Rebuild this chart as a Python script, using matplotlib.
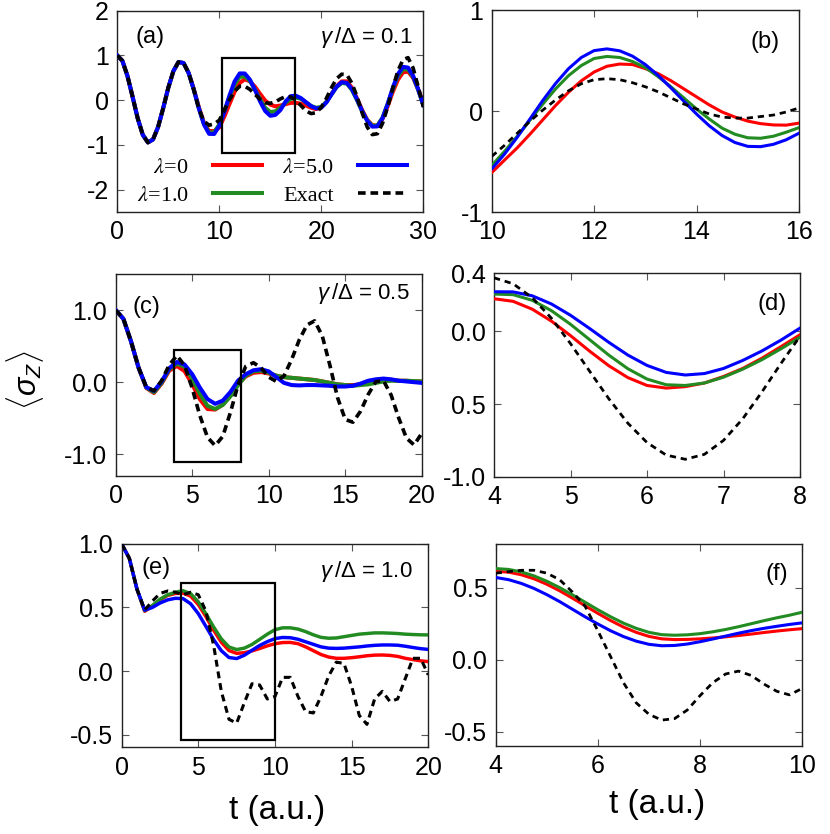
import matplotlib
matplotlib.use("Agg")
import matplotlib.pyplot as plt
import numpy as np
from matplotlib.font_manager import FontProperties
from matplotlib.patches import Rectangle

# ---------------- data ----------------
labels = [r"$\lambda$=0", r"$\lambda$=1.0", r"$\lambda$=5.0", "Exact"]
gammas = ["0.1", "0.5", "1.0"]

# panel (a): t = 0..30 step 0.5
t_a = np.linspace(0, 30, 61)
red_a = [1.0, 0.88, 0.54, 0.075, -0.405, -0.775, -0.945, -0.88, -0.60, -0.18, 0.277, 0.649, 0.852, 0.83, 0.605,
         0.25, -0.16, -0.51, -0.69, -0.69, -0.61, -0.364, -0.086, 0.186, 0.386, 0.465, 0.42, 0.30, 0.14, -0.01,
         -0.10, -0.138, -0.12, -0.09, -0.06, -0.06, -0.08, -0.12, -0.17, -0.20, -0.16, -0.04, 0.14, 0.31, 0.42,
         0.42, 0.28, 0.04, -0.22, -0.44, -0.56, -0.57, -0.42, -0.14, 0.18, 0.45, 0.62, 0.64, 0.5, 0.24, -0.06]
green_a = [1.0, 0.88, 0.54, 0.075, -0.405, -0.775, -0.945, -0.88, -0.60, -0.18, 0.277, 0.649, 0.852, 0.83, 0.605,
           0.234, -0.185, -0.535, -0.72, -0.72, -0.54, -0.25, 0.07, 0.35, 0.52, 0.53, 0.43, 0.24, 0.02, -0.17,
           -0.265, -0.25, -0.165, -0.06, 0.03, 0.06, 0.03, -0.05, -0.13, -0.17, -0.15, -0.04, 0.13, 0.29, 0.385,
           0.37, 0.23, 0.0, -0.25, -0.45, -0.57, -0.565, -0.39, -0.09, 0.24, 0.53, 0.69, 0.69, 0.52, 0.23, -0.11]
blue_a = [1.0, 0.88, 0.54, 0.075, -0.405, -0.775, -0.945, -0.88, -0.60, -0.18, 0.277, 0.649, 0.852, 0.83, 0.605,
          0.234, -0.185, -0.546, -0.753, -0.756, -0.574, -0.259, 0.106, 0.419, 0.598, 0.596, 0.460, 0.229, -0.030,
          -0.243, -0.350, -0.33, -0.22, -0.03, 0.09, 0.10, 0.046, -0.045, -0.134, -0.185, -0.169, -0.051, 0.129,
          0.301, 0.401, 0.386, 0.247, 0.019, -0.240, -0.463, -0.592, -0.587, -0.407, -0.091, 0.270, 0.576, 0.744,
          0.728, 0.546, 0.242, -0.11]
exact_a = [1.0, 0.88, 0.54, 0.075, -0.405, -0.775, -0.945, -0.88, -0.60, -0.18, 0.277, 0.649, 0.852, 0.83, 0.605,
           0.234, -0.2, -0.47, -0.56, -0.53, -0.45, -0.22, 0.01, 0.20, 0.31, 0.31, 0.24, 0.13, 0.02, -0.06,
           -0.07, -0.04, 0.03, 0.08, 0.07, 0.0, -0.12, -0.24, -0.30, -0.28, -0.16, 0.04, 0.28, 0.48, 0.58,
           0.57, 0.38, 0.08, -0.28, -0.60, -0.77, -0.75, -0.52, -0.16, 0.26, 0.65, 0.90, 0.95, 0.72, 0.30, -0.15]

# panel (b): t = 10..16 step 0.25
t_b = np.linspace(10, 16, 25)
red_b = [-0.61, -0.486, -0.364, -0.228, -0.086, 0.056, 0.186, 0.299, 0.386, 0.443, 0.465, 0.46, 0.42, 0.37,
         0.30, 0.22, 0.14, 0.06, -0.01, -0.06, -0.10, -0.125, -0.138, -0.14, -0.12]
green_b = [-0.54, -0.40, -0.25, -0.09, 0.07, 0.22, 0.35, 0.45, 0.52, 0.54, 0.53, 0.49, 0.43, 0.34, 0.24, 0.13,
           0.02, -0.08, -0.17, -0.23, -0.265, -0.27, -0.25, -0.21, -0.165]
blue_b = [-0.574, -0.427, -0.259, -0.077, 0.106, 0.274, 0.419, 0.530, 0.598, 0.615, 0.596, 0.543, 0.460, 0.353,
          0.229, 0.098, -0.030, -0.147, -0.243, -0.312, -0.350, -0.353, -0.33, -0.285, -0.22]
exact_b = [-0.45, -0.34, -0.22, -0.10, 0.01, 0.11, 0.20, 0.27, 0.31, 0.32, 0.31, 0.28, 0.24, 0.19, 0.13, 0.07,
           0.02, -0.03, -0.06, -0.07, -0.07, -0.055, -0.04, -0.01, 0.03]

# panel (c): t = 0..20 step 0.5
t_c = np.linspace(0, 20, 41)
red_c = [1.0, 0.879, 0.566, 0.197, -0.08, -0.15, -0.02, 0.16, 0.225, 0.153, -0.029, -0.236, -0.372, -0.38, -0.31,
         -0.185, -0.023, 0.08, 0.13, 0.14, 0.12, 0.09, 0.07, 0.06, 0.05, 0.04, 0.03, 0.01, -0.01, -0.03, -0.04,
         -0.04, -0.03, -0.01, 0.01, 0.03, 0.03, 0.02, 0.02, 0.01, 0.01]
green_c = [1.0, 0.879, 0.566, 0.197, -0.075, -0.14, -0.01, 0.18, 0.257, 0.214, 0.049, -0.163, -0.328, -0.372,
           -0.315, -0.195, -0.04, 0.09, 0.15, 0.16, 0.13, 0.09, 0.07, 0.06, 0.05, 0.04, 0.03, 0.01, -0.01, -0.03,
           -0.04, -0.05, -0.04, -0.03, -0.01, 0.01, 0.02, 0.02, 0.02, 0.015, 0.01]
blue_c = [1.0, 0.879, 0.566, 0.197, -0.069, -0.122, 0.008, 0.194, 0.28, 0.245, 0.111, -0.075, -0.234, -0.30,
          -0.255, -0.135, 0.023, 0.11, 0.165, 0.18, 0.15, 0.07, -0.01, -0.04, -0.045, -0.04, -0.04, -0.045, -0.05,
          -0.06, -0.06, -0.05, -0.02, 0.02, 0.04, 0.05, 0.04, 0.02, 0.01, 0.0, -0.01]
exact_c = [1.0, 0.879, 0.566, 0.197, -0.069, -0.12, 0.02, 0.24, 0.369, 0.232, -0.084, -0.463, -0.765, -0.88,
           -0.75, -0.418, -0.033, 0.22, 0.27, 0.20, 0.07, 0.01, 0.088, 0.315, 0.588, 0.793, 0.85, 0.642, 0.233,
           -0.215, -0.516, -0.555, -0.403, -0.171, 0.007, 0.021, -0.178, -0.498, -0.775, -0.87, -0.71]

# panel (d): t = 4..8 step 0.25
t_d = np.linspace(4, 8, 17)
red_d = [0.225, 0.207, 0.153, 0.071, -0.029, -0.136, -0.236, -0.318, -0.372, -0.39, -0.38, -0.355, -0.31,
         -0.255, -0.185, -0.105, -0.023]
green_d = [0.257, 0.253, 0.214, 0.143, 0.049, -0.057, -0.163, -0.257, -0.328, -0.367, -0.372, -0.355, -0.315,
           -0.26, -0.195, -0.12, -0.04]
blue_d = [0.273, 0.272, 0.245, 0.189, 0.111, 0.020, -0.075, -0.163, -0.234, -0.282, -0.30, -0.29, -0.255, -0.20,
          -0.135, -0.06, 0.023]
exact_d = [0.369, 0.328, 0.232, 0.091, -0.084, -0.274, -0.463, -0.632, -0.765, -0.851, -0.88, -0.846, -0.750,
           -0.602, -0.418, -0.221, -0.033]

# panel (e): t = 0..20 step 0.5
t_e = np.linspace(0, 20, 41)
red_e = [1.0, 0.886, 0.643, 0.47, 0.51, 0.56, 0.595, 0.61, 0.613, 0.589, 0.523, 0.427, 0.321, 0.226, 0.161,
         0.139, 0.144, 0.158, 0.177, 0.198, 0.215, 0.224, 0.225, 0.215, 0.19, 0.16, 0.13, 0.11, 0.10, 0.10, 0.105,
         0.112, 0.12, 0.125, 0.126, 0.123, 0.115, 0.10, 0.09, 0.08, 0.074]
green_e = [1.0, 0.886, 0.643, 0.475, 0.515, 0.565, 0.60, 0.62, 0.632, 0.609, 0.544, 0.450, 0.346, 0.253, 0.189,
           0.169, 0.180, 0.209, 0.249, 0.290, 0.325, 0.34, 0.34, 0.33, 0.31, 0.285, 0.265, 0.258, 0.26, 0.27, 0.28,
           0.29, 0.295, 0.30, 0.30, 0.298, 0.295, 0.29, 0.287, 0.285, 0.284]
blue_e = [1.0, 0.886, 0.643, 0.479, 0.50, 0.535, 0.56, 0.572, 0.570, 0.529, 0.451, 0.350, 0.247, 0.160, 0.106,
          0.098, 0.124, 0.163, 0.201, 0.231, 0.255, 0.264, 0.262, 0.25, 0.23, 0.21, 0.19, 0.18, 0.178, 0.18, 0.185,
          0.19, 0.197, 0.202, 0.205, 0.205, 0.203, 0.195, 0.185, 0.176, 0.17]
exact_e = [1.0, 0.886, 0.643, 0.48, 0.55, 0.61, 0.63, 0.62, 0.60, 0.62, 0.60, 0.47, 0.20, -0.16, -0.38, -0.41,
           -0.25, -0.10, -0.11, -0.22, -0.20, -0.05, -0.05, -0.20, -0.32, -0.33, -0.20, -0.04, 0.07, 0.06, -0.12,
           -0.35, -0.42, -0.22, -0.16, -0.24, -0.22, -0.06, 0.10, 0.10, -0.03]

# panel (f): t = 4..10 step 0.25
t_f = np.linspace(4, 10, 25)
red_f = [0.613, 0.607, 0.589, 0.561, 0.523, 0.478, 0.427, 0.374, 0.321, 0.271, 0.226, 0.189, 0.161, 0.144, 0.139,
         0.140, 0.144, 0.150, 0.158, 0.167, 0.177, 0.188, 0.198, 0.207, 0.215]
green_f = [0.632, 0.626, 0.609, 0.581, 0.544, 0.500, 0.450, 0.398, 0.346, 0.297, 0.253, 0.217, 0.189, 0.173,
           0.169, 0.172, 0.180, 0.193, 0.209, 0.228, 0.249, 0.270, 0.290, 0.308, 0.329]
blue_f = [0.570, 0.555, 0.529, 0.494, 0.451, 0.403, 0.350, 0.297, 0.247, 0.200, 0.160, 0.128, 0.106, 0.096, 0.098,
          0.108, 0.124, 0.143, 0.163, 0.183, 0.201, 0.217, 0.231, 0.244, 0.255]
exact_f = [0.60, 0.61, 0.62, 0.62, 0.60, 0.555, 0.47, 0.37, 0.20, 0.02, -0.16, -0.30, -0.38, -0.42, -0.41, -0.35,
           -0.25, -0.16, -0.10, -0.08, -0.11, -0.17, -0.22, -0.245, -0.20]

# zoom boxes (x0, x1, y0, y1) drawn in main panels
box_a = (10.3, 17.4, -1.18, 0.95)
box_c = (3.8, 8.2, -1.11, 0.45)
box_e = (3.9, 10.0, -0.54, 0.69)

# ---------------- style ----------------
plt.rcParams["font.family"] = ["Liberation Sans", "DejaVu Sans"]
plt.rcParams["axes.unicode_minus"] = False
plt.rcParams["mathtext.fontset"] = "custom"
plt.rcParams["mathtext.rm"] = "Liberation Sans"
plt.rcParams["mathtext.it"] = "Liberation Sans:italic"
plt.rcParams["mathtext.bf"] = "Liberation Sans:bold"
plt.rcParams["lines.scale_dashes"] = False

colors = ["#ff0000", "#228b22", "#0000ff", "#000000"]

fig = plt.figure(figsize=(8.3, 8.34), dpi=100)

axes_pos = {
    "a": [0.1413, 0.7458, 0.3687, 0.2414],
    "b": [0.5924, 0.7458, 0.3702, 0.2422],
    "c": [0.1394, 0.4293, 0.3687, 0.2422],
    "d": [0.5952, 0.4284, 0.3687, 0.2439],
    "e": [0.1466, 0.1040, 0.3694, 0.2438],
    "f": [0.5972, 0.1055, 0.3694, 0.2418],
}
ax = {k: fig.add_axes(v) for k, v in axes_pos.items()}


def draw(a, t, series, lw, dash):
    lines = []
    for y, c, lab in zip(series, colors, labels):
        if c == "#000000":
            ln, = a.plot(t, y, color=c, lw=lw * 0.9, dashes=dash, label=lab, zorder=4)
        else:
            ln, = a.plot(t, y, color=c, lw=lw, label=lab, zorder=3)
        lines.append(ln)
    return lines


def style(a, xlim, ylim, xticks, yticks, yticklabels=None):
    a.set_xlim(*xlim)
    a.set_ylim(*ylim)
    a.set_xticks(xticks)
    a.set_yticks(yticks)
    if yticklabels is not None:
        a.set_yticklabels(yticklabels)
    a.tick_params(direction="in", top=True, right=True, length=5, width=0.8,
                  color="#555555", labelsize=18, pad=6)
    for s in a.spines.values():
        s.set_linewidth(1.0)
        s.set_color("#222222")


def add_box(a, box):
    x0, x1, y0, y1 = box
    a.add_patch(Rectangle((x0, y0), x1 - x0, y1 - y0, fill=False, ec="k", lw=1.6, zorder=6))


main_lw, zoom_lw = 2.9, 2.2
lines_a = draw(ax["a"], t_a, [red_a, green_a, blue_a, exact_a], main_lw, (5.5, 3.5))
draw(ax["b"], t_b, [red_b, green_b, blue_b, exact_b], zoom_lw, (4.5, 3.5))
draw(ax["c"], t_c, [red_c, green_c, blue_c, exact_c], main_lw, (5.5, 3.5))
draw(ax["d"], t_d, [red_d, green_d, blue_d, exact_d], zoom_lw, (4.5, 3.5))
draw(ax["e"], t_e, [red_e, green_e, blue_e, exact_e], main_lw * 0.85, (5.0, 3.5))
draw(ax["f"], t_f, [red_f, green_f, blue_f, exact_f], zoom_lw, (4.5, 3.5))

style(ax["a"], (0, 30), (-2.5, 2.0), [0, 10, 20, 30], [-2, -1, 0, 1, 2])
style(ax["b"], (10, 16), (-1, 1), [10, 12, 14, 16], [-1, 0, 1])
style(ax["c"], (0, 20), (-1.3, 1.5), [0, 5, 10, 15, 20], [-1.0, 0.0, 1.0], ["-1.0", "0.0", "1.0"])
style(ax["d"], (4, 8), (-1.0, 0.4), [4, 5, 6, 7, 8], [-1.0, -0.5, 0.0, 0.4], ["-1.0", "0.5", "0.0", "0.4"])
style(ax["e"], (0, 20), (-0.6, 1.0), [0, 5, 10, 15, 20], [-0.5, 0.0, 0.5, 1.0], ["-0.5", "0.0", "0.5", "1.0"])
style(ax["f"], (4, 10), (-0.6, 0.8), [4, 6, 8, 10], [-0.5, 0.0, 0.5], ["-0.5", "0.0", "0.5"])

add_box(ax["a"], box_a)
add_box(ax["c"], box_c)
add_box(ax["e"], box_e)

# panel labels
tag_kw = dict(fontsize=17, va="center")
ax["a"].text(0.108, 0.87, "(a)", ha="center", transform=ax["a"].transAxes, **tag_kw)
ax["b"].text(0.889, 0.84, "(b)", ha="center", transform=ax["b"].transAxes, **tag_kw)
ax["c"].text(0.10, 0.837, "(c)", ha="center", transform=ax["c"].transAxes, **tag_kw)
ax["d"].text(0.908, 0.85, "(d)", ha="center", transform=ax["d"].transAxes, **tag_kw)
ax["e"].text(0.112, 0.88, "(e)", ha="center", transform=ax["e"].transAxes, **tag_kw)
ax["f"].text(0.918, 0.853, "(f)", ha="center", transform=ax["f"].transAxes, **tag_kw)

g_kw = dict(fontsize=16, va="center", ha="right")
ax["a"].text(0.965, 0.865, r"$\gamma\,/\Delta$ = " + gammas[0], transform=ax["a"].transAxes, **g_kw)
ax["c"].text(0.96, 0.903, r"$\gamma\,/\Delta$ = " + gammas[1], transform=ax["c"].transAxes, **g_kw)
ax["e"].text(0.95, 0.862, r"$\gamma\,/\Delta$ = " + gammas[2], transform=ax["e"].transAxes, **g_kw)

# legend in (a)
leg_font = FontProperties(family="Liberation Serif", size=16, math_fontfamily="stix")
ax["a"].legend(handles=lines_a, ncol=2, loc="center", bbox_to_anchor=(0.505, 0.15), frameon=False,
               markerfirst=False, prop=leg_font, handlelength=2.2, handletextpad=1.1,
               columnspacing=0.9, labelspacing=0.35, borderpad=0.1)

# axis labels
ax["c"].set_ylabel(r"$\langle\sigma_Z\rangle$", fontsize=22)
ax["c"].yaxis.set_label_coords(-0.296, 0.475)
ax["c"].yaxis.label.set_va("center")
ax["e"].set_xlabel("t (a.u.)", fontsize=24)
ax["e"].xaxis.set_label_coords(0.5065, -0.313)
ax["e"].xaxis.label.set_va("center")
ax["f"].set_xlabel("t (a.u.)", fontsize=24)
ax["f"].xaxis.set_label_coords(0.525, -0.29)
ax["f"].xaxis.label.set_va("center")

fig.savefig("out.png", dpi=100)
